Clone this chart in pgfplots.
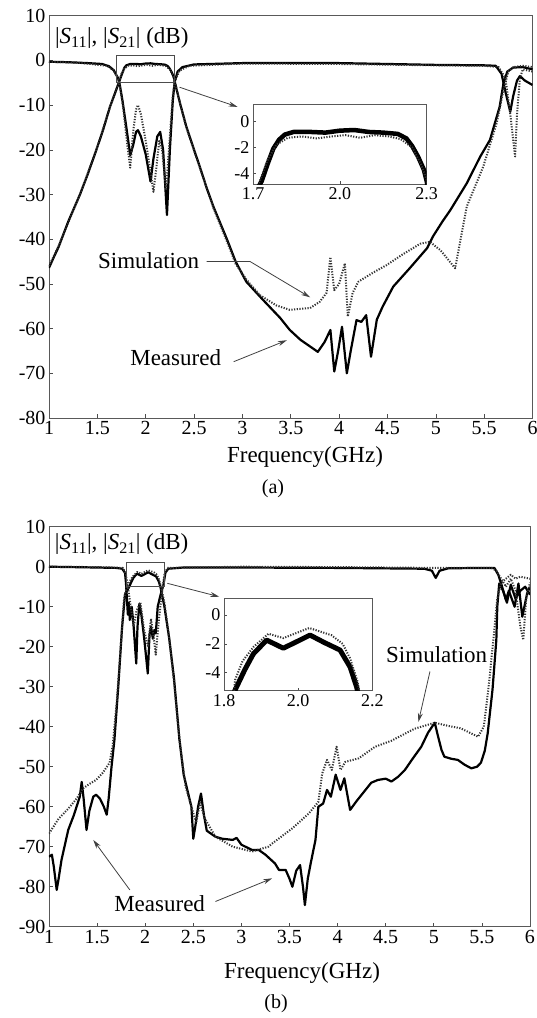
\documentclass[border=0pt]{standalone}
\usepackage{fontspec}
\setmainfont{Liberation Serif}
\usepackage{pgfplots}
\pgfplotsset{compat=1.18}
\usetikzlibrary{arrows.meta}

\tikzset{
  meas/.style={black, line width=2.2pt, line join=round},
  sim/.style={black!80, line width=2pt, dash pattern=on 1.2pt off 1.5pt, line join=round},
  ann/.style={black!75, line width=0.8pt, -{Stealth[length=9pt,width=5pt]}},
}
\pgfplotsset{
  mainax/.style={scale only axis, xmin=1, xmax=6,
    xtick={1,1.5,2,2.5,3,3.5,4,4.5,5,5.5,6},
    tick pos=left, tick align=inside, major tick length=4pt,
    axis line style={black!65, line width=0.9pt},
    tick style={black!70, line width=0.6pt},
    tick label style={font=\fontsize{20}{24}\selectfont},
    /pgf/number format/assume math mode=true},
  inset/.style={scale only axis, tick pos=left, tick align=inside, major tick length=3pt,
    axis line style={black!65, line width=0.8pt},
    tick style={black!70, line width=0.6pt},
    tick label style={font=\fontsize{18}{21}\selectfont},
    /pgf/number format/assume math mode=true,
    axis background/.style={fill=white},
    xticklabel style={/pgf/number format/fixed, /pgf/number format/fixed zerofill, /pgf/number format/precision=1}},
}

\begin{document}
\begin{tikzpicture}
\useasboundingbox (0pt,0pt) rectangle (536pt,-1018pt);

% ================= Panel (a) =================
\begin{axis}[mainax, at={(49pt,-418pt)}, anchor=south west,
  width=483.5pt, height=402.3pt, ymin=-80, ymax=10,
  ytick={-80,-70,-60,-50,-40,-30,-20,-10,0,10}]
% S21 measured
\addplot[meas] coordinates {
(1.00,-46.4) (1.05,-44) (1.10,-41.7) (1.20,-36) (1.32,-30) (1.40,-25.5) (1.49,-20) (1.56,-15.5)
(1.63,-10.4) (1.68,-7.5) (1.72,-5.1) (1.75,-3.3) (1.78,-1.6) (1.80,-1.1) (1.84,-0.8) (1.90,-0.8)
(1.95,-0.85) (2.00,-0.7) (2.05,-0.65) (2.10,-0.8) (2.15,-0.85) (2.20,-0.95) (2.23,-1.3) (2.25,-1.9)
(2.27,-2.7) (2.29,-3.7) (2.30,-4.8) (2.36,-10) (2.42,-14.8) (2.50,-20) (2.56,-23.8) (2.63,-28.5)
(2.70,-32.7) (2.84,-40) (2.93,-45) (3.04,-49.5) (3.21,-53.5) (3.39,-57.6) (3.49,-60.3) (3.60,-62.5)
(3.78,-65.2) (3.85,-63) (3.91,-60.3) (3.95,-69.6) (3.99,-65) (4.03,-59.6) (4.08,-70) (4.12,-65)
(4.18,-58.1) (4.23,-58.5) (4.28,-57) (4.33,-66.3) (4.39,-58) (4.45,-55.1) (4.56,-50.6) (4.73,-46.5)
(4.91,-42) (4.97,-39.4) (5.07,-36) (5.15,-33.5) (5.32,-27.5) (5.46,-21.5) (5.56,-17.8) (5.66,-10.4)
(5.70,-5.1) (5.74,-2.5) (5.80,-1.6) (5.90,-1.5) (6.00,-2)};
% S11 measured
\addplot[meas] coordinates {
(1.00,-0.3) (1.20,-0.4) (1.40,-0.6) (1.55,-0.8) (1.62,-1.3) (1.67,-2.2) (1.71,-3.8) (1.73,-5.2)
(1.76,-9) (1.80,-15) (1.84,-21.2) (1.87,-19) (1.90,-16) (1.92,-15.6) (1.95,-17) (2.00,-21)
(2.05,-27.1) (2.08,-22) (2.12,-17) (2.15,-16) (2.18,-20) (2.22,-34.6) (2.25,-20) (2.28,-9)
(2.30,-4.8) (2.33,-2.5) (2.38,-1.5) (2.50,-0.9) (3.00,-0.6) (4.00,-0.6) (4.50,-0.8) (5.00,-1.0)
(5.50,-1.1) (5.62,-1.2) (5.68,-3) (5.72,-7) (5.77,-11.5) (5.80,-8) (5.84,-4.5) (5.87,-3.5)
(5.92,-4.5) (6.00,-5.5)};
% S21 simulated
\addplot[sim] coordinates {
(1.00,-46) (1.10,-41.5) (1.32,-30) (1.49,-20) (1.63,-10.5) (1.72,-5) (1.75,-3.0) (1.78,-1.8)
(1.82,-1.2) (1.87,-1.1) (1.92,-1.3) (1.97,-1.1) (2.02,-1.0) (2.07,-1.2) (2.12,-1.0) (2.17,-1.1)
(2.21,-1.3) (2.25,-2.0) (2.28,-3.3) (2.30,-4.6) (2.36,-10) (2.42,-15) (2.56,-24) (2.70,-33)
(2.84,-40.5) (2.93,-45.5) (3.04,-49) (3.18,-52.5) (3.35,-54.8) (3.49,-55.8) (3.70,-55.4) (3.80,-54)
(3.87,-52) (3.91,-44) (3.95,-51.4) (4.00,-50) (4.06,-45.4) (4.09,-57.3) (4.14,-52) (4.20,-49.5)
(4.35,-47.5) (4.49,-45.8) (4.65,-43.5) (4.84,-41) (4.94,-40.6) (5.05,-42.5) (5.20,-46.5) (5.32,-32.7)
(5.49,-23.8) (5.63,-14) (5.70,-6.6) (5.75,-2.5) (5.80,-1.5) (5.90,-1.2) (6.00,-1.5)};
% S11 simulated
\addplot[sim] coordinates {
(1.00,-0.3) (1.30,-0.5) (1.60,-1.2) (1.67,-2.3) (1.71,-3.9) (1.73,-5.3) (1.77,-11) (1.81,-19)
(1.84,-24) (1.87,-16) (1.90,-11) (1.92,-10) (1.95,-12) (2.00,-18) (2.05,-25) (2.08,-29.4)
(2.11,-24) (2.14,-18) (2.17,-20) (2.21,-29) (2.25,-17) (2.28,-8) (2.30,-4.7) (2.35,-2.3)
(2.45,-1.2) (3.00,-0.7) (4.00,-0.8) (5.00,-1.1) (5.50,-1.2) (5.65,-1.5) (5.72,-4) (5.77,-12)
(5.82,-21.5) (5.84,-12) (5.87,-4) (5.90,-2) (6.00,-2.5)};
\draw[black!70, line width=0.8pt] (axis cs:1.7,1.2) rectangle (axis cs:2.3,-5);
\draw[ann] (axis cs:2.35,-6) -- (axis cs:2.95,-10.4);
\node[anchor=west, inner sep=0pt, font=\fontsize{23}{27}\selectfont] at (axis cs:1.06,5)
  {|\textit{S}\textsubscript{11}|, |\textit{S}\textsubscript{21}| (dB)};
\node[font=\fontsize{23}{27}\selectfont] at (axis cs:2.03,-44.8) {Simulation};
\draw[ann] (axis cs:2.63,-45) -- (axis cs:3.08,-45) -- (axis cs:3.70,-53);
\node[font=\fontsize{23}{27}\selectfont] at (axis cs:2.31,-66.6) {Measured};
\draw[ann] (axis cs:2.91,-67.4) -- (axis cs:3.46,-62.6);
\end{axis}

% inset (a)
\begin{axis}[inset, at={(253pt,-184pt)}, anchor=south west, width=173.7pt, height=80pt,
  xmin=1.7, xmax=2.3, ymin=-4.82, ymax=1.36, xtick={1.7,2.0,2.3}, ytick={-4,-2,0}]
\addplot[black, line width=4.5pt, line join=round] coordinates {
(1.70,-7) (1.72,-5) (1.73,-4.6) (1.75,-3.3) (1.77,-2.1) (1.79,-1.4) (1.81,-1.0) (1.84,-0.8)
(1.90,-0.8) (1.95,-0.85) (2.00,-0.7) (2.05,-0.65) (2.10,-0.8) (2.15,-0.85) (2.20,-0.95) (2.23,-1.3)
(2.25,-1.9) (2.27,-2.7) (2.29,-3.7) (2.30,-4.6) (2.31,-6)};
\addplot[sim] coordinates {
(1.70,-7) (1.72,-4.8) (1.75,-3.0) (1.78,-1.8) (1.82,-1.25) (1.87,-1.15) (1.92,-1.3) (1.97,-1.15)
(2.02,-1.05) (2.07,-1.25) (2.12,-1.05) (2.17,-1.15) (2.21,-1.35) (2.25,-2.0) (2.28,-3.3) (2.30,-4.5) (2.31,-6)};
\end{axis}

\node[font=\fontsize{23}{27}\selectfont] at (305pt,-457pt) {Frequency(GHz)};
\node[font=\fontsize{20}{24}\selectfont] at (273pt,-489pt) {(a)};

% ================= Panel (b) =================
\begin{axis}[mainax, at={(49pt,-926.7pt)}, anchor=south west,
  width=481pt, height=400pt, ymin=-90, ymax=10,
  ytick={-90,-80,-70,-60,-50,-40,-30,-20,-10,0,10}]
% S21 measured
\addplot[meas] coordinates {
(1.00,-72.5) (1.03,-72) (1.05,-75) (1.08,-80.8) (1.10,-78) (1.13,-73.3) (1.20,-65.8) (1.26,-62)
(1.32,-57.5) (1.34,-53.8) (1.36,-58) (1.39,-65.8) (1.42,-61) (1.46,-57.5) (1.49,-57) (1.53,-58)
(1.57,-60) (1.60,-62) (1.62,-58) (1.65,-50) (1.68,-43.3) (1.72,-30) (1.76,-15) (1.79,-7)
(1.81,-6) (1.83,-5.2) (1.856,-3.8) (1.879,-2.7) (1.915,-1.74) (1.96,-2.3) (2.00,-1.8) (2.032,-1.39)
(2.07,-1.9) (2.113,-2.43) (2.14,-3.6) (2.158,-5) (2.20,-10) (2.25,-18) (2.30,-28) (2.355,-43)
(2.40,-52) (2.45,-57) (2.48,-60) (2.50,-68) (2.52,-65) (2.55,-60) (2.58,-56.7) (2.61,-62)
(2.64,-66) (2.73,-67.5) (2.80,-68) (2.91,-68.3) (2.95,-67.8) (3.00,-69.5) (3.11,-70.8) (3.18,-70.8)
(3.25,-72) (3.35,-74.2) (3.39,-75.8) (3.46,-75.8) (3.50,-78) (3.53,-80) (3.57,-76) (3.61,-74.6)
(3.64,-80) (3.66,-84.6) (3.69,-78) (3.72,-74.2) (3.77,-68.3) (3.80,-60) (3.85,-59.2) (3.89,-55.8)
(3.93,-57.5) (3.98,-52) (4.03,-55.8) (4.07,-52.9) (4.13,-60.8) (4.20,-58.5) (4.29,-55.8) (4.35,-54)
(4.42,-53.3) (4.50,-53) (4.56,-53.7) (4.63,-52.5) (4.70,-50.8) (4.78,-48) (4.87,-45) (4.94,-41.5)
(5.01,-39) (5.04,-42) (5.08,-45.8) (5.11,-47.5) (5.18,-48) (5.25,-48.3) (5.32,-49.5) (5.39,-50.4)
(5.45,-50) (5.49,-49) (5.53,-46) (5.56,-41.7) (5.61,-30.8) (5.65,-18.3) (5.66,-10) (5.68,-4.2)
(5.72,-6) (5.76,-9) (5.80,-4.5) (5.85,-8) (5.90,-6) (5.95,-5) (6.00,-7)};
% S11 measured
\addplot[meas] coordinates {
(1.00,0) (1.50,-0.2) (1.70,-0.3) (1.76,-0.5) (1.79,-1.5) (1.80,-4) (1.81,-8) (1.82,-12)
(1.83,-9) (1.84,-13.3) (1.86,-10) (1.88,-15) (1.907,-24.2) (1.92,-15) (1.94,-9.2) (1.96,-12)
(1.99,-18) (2.027,-26.7) (2.045,-17) (2.06,-15) (2.08,-18) (2.096,-15.8) (2.11,-16.7) (2.13,-10)
(2.16,-7) (2.19,-4.5) (2.21,-1.5) (2.24,-0.5) (2.40,-0.2) (3.00,-0.2) (4.00,-0.3) (4.90,-0.5)
(4.98,-1) (5.02,-2.8) (5.06,-1) (5.15,-0.4) (5.50,-0.3) (5.63,-0.3) (5.67,-2) (5.70,-4.2)
(5.75,-8.3) (5.78,-6) (5.84,-10) (5.88,-4.2) (5.92,-12.5) (5.97,-6.7) (6.00,-5)};
% S21 simulated
\addplot[sim] coordinates {
(1.00,-66.7) (1.10,-63) (1.20,-60.5) (1.29,-57.9) (1.35,-55.5) (1.42,-54.3) (1.49,-53.3) (1.56,-51.5)
(1.63,-49) (1.66,-45) (1.70,-35) (1.74,-22) (1.78,-8) (1.81,-4.8) (1.83,-4.2) (1.85,-3.2)
(1.88,-2.2) (1.92,-1.3) (1.96,-1.8) (2.03,-0.9) (2.09,-1.4) (2.12,-2.0) (2.14,-3.0) (2.16,-4.6)
(2.20,-9) (2.25,-18) (2.30,-29) (2.36,-44) (2.42,-55) (2.48,-60) (2.53,-64) (2.57,-59)
(2.62,-63) (2.73,-67.5) (2.91,-70) (3.11,-71.2) (3.28,-70) (3.32,-69.2) (3.53,-65.4) (3.70,-61.7)
(3.80,-58.8) (3.84,-51.7) (3.89,-48.3) (3.94,-50.8) (3.99,-45) (4.03,-50.8) (4.08,-48.8) (4.22,-47.9)
(4.39,-45) (4.56,-43.5) (4.80,-40.5) (5.01,-39) (5.15,-39.8) (5.28,-40.4) (5.46,-42.5) (5.52,-40)
(5.57,-30) (5.62,-18) (5.66,-8) (5.70,-4) (5.75,-3) (5.80,-2) (5.85,-3) (5.90,-2.5) (6.00,-3)};
% S11 simulated
\addplot[sim] coordinates {
(1.00,0) (1.50,-0.1) (1.77,-0.3) (1.80,-2) (1.82,-5) (1.85,-10) (1.88,-15) (1.91,-11)
(1.95,-9) (1.99,-16) (2.03,-20) (2.06,-13) (2.09,-18) (2.11,-22) (2.14,-14) (2.17,-7)
(2.20,-2) (2.23,-0.3) (3.00,0) (4.00,-0.1) (5.00,-0.3) (5.60,-0.3) (5.65,-1) (5.70,-3)
(5.75,-5) (5.80,-3) (5.85,-6) (5.90,-15) (5.93,-18.3) (5.96,-8) (6.00,-4)};
\draw[black!70, line width=0.8pt] (axis cs:1.8,1) rectangle (axis cs:2.2,-5);
\draw[ann] (axis cs:2.23,-4.15) -- (axis cs:2.77,-7.5);
\node[anchor=west, inner sep=0pt, font=\fontsize{23}{27}\selectfont] at (axis cs:1.06,5.7)
  {|\textit{S}\textsubscript{11}|, |\textit{S}\textsubscript{21}| (dB)};
\node[font=\fontsize{23}{27}\selectfont] at (axis cs:5.03,-22.1) {Simulation};
\draw[ann] (axis cs:4.96,-26.2) -- (axis cs:4.84,-38.8);
\node[font=\fontsize{23}{27}\selectfont] at (axis cs:2.15,-84.2) {Measured};
\draw[ann] (axis cs:1.84,-80.8) -- (axis cs:1.46,-68.3);
\draw[ann] (axis cs:2.73,-83.7) -- (axis cs:3.32,-77.9);
\end{axis}

% inset (b)
\begin{axis}[inset, at={(224pt,-690.7pt)}, anchor=south west, width=148.3pt, height=92.4pt,
  xmin=1.8, xmax=2.2, ymin=-5.25, ymax=1.16, xtick={1.8,2.0,2.2}, ytick={-4,-2,0}]
\addplot[black, line width=5pt, line join=round] coordinates {
(1.82,-6) (1.83,-5.2) (1.856,-3.8) (1.879,-2.7) (1.915,-1.74) (1.96,-2.3) (2.00,-1.8) (2.032,-1.39)
(2.07,-1.9) (2.113,-2.43) (2.14,-3.6) (2.158,-5) (2.165,-6)};
\addplot[sim] coordinates {
(1.825,-6) (1.83,-4.5) (1.85,-3.2) (1.88,-2.2) (1.92,-1.3) (1.96,-1.6) (2.00,-1.2) (2.03,-0.9)
(2.09,-1.4) (2.12,-2.0) (2.14,-3.0) (2.16,-4.6) (2.17,-6)};
\end{axis}

\node[font=\fontsize{23}{27}\selectfont] at (302pt,-973pt) {Frequency(GHz)};
\node[font=\fontsize{20}{24}\selectfont] at (276pt,-1004pt) {(b)};
\end{tikzpicture}
\end{document}
